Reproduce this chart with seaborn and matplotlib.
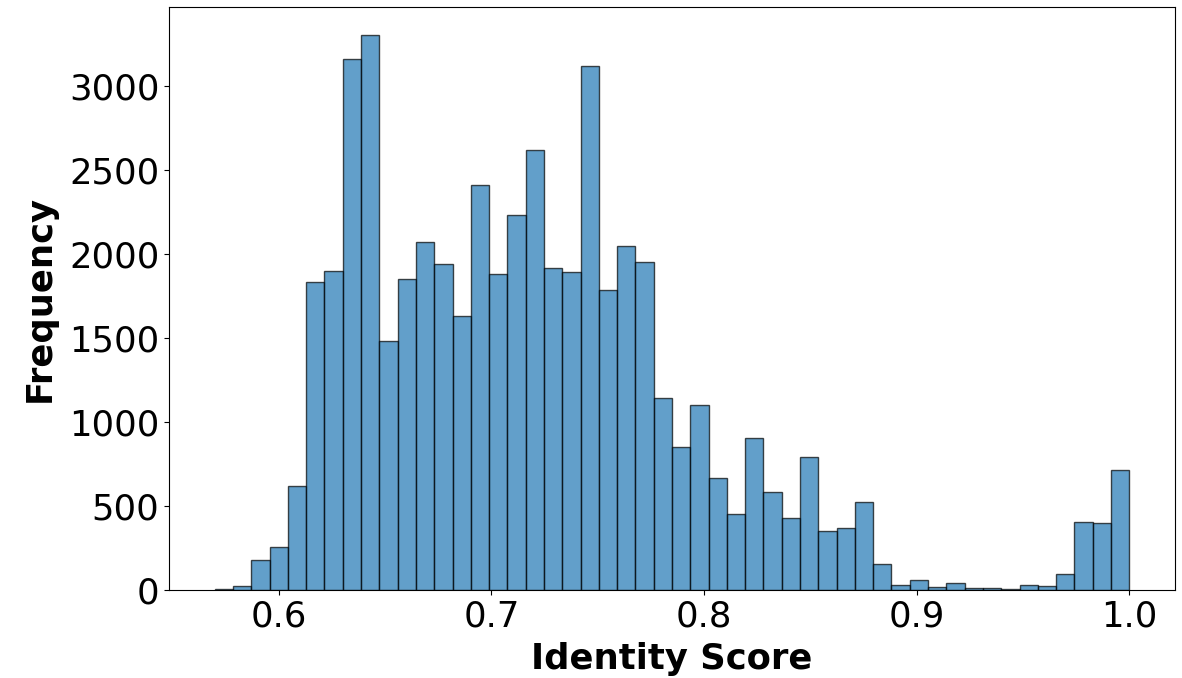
import numpy as np
import pandas as pd
import matplotlib
matplotlib.use("Agg")
import matplotlib.pyplot as plt
import seaborn as sns

# Histogram data
bin_start = 0.5699
bin_end = 1.0
n_bins = 50
counts = [8, 22, 181, 255, 617, 1835, 1902, 3165, 3308, 1482,
          1850, 2076, 1940, 1631, 2414, 1880, 2233, 2624, 1918, 1894,
          3121, 1789, 2051, 1954, 1141, 850, 1105, 669, 450, 908,
          586, 430, 795, 353, 368, 525, 157, 30, 60, 16,
          44, 14, 14, 6, 30, 24, 97, 406, 398, 713]
x_label = "Identity Score"
y_label = "Frequency"
x_ticks = [0.6, 0.7, 0.8, 0.9, 1.0]

edges = np.linspace(bin_start, bin_end, n_bins + 1)
centers = (edges[:-1] + edges[1:]) / 2
df = pd.DataFrame({"score": centers, "count": counts})

plt.rcParams["font.family"] = ["DejaVu Sans"]
fig = plt.figure(figsize=(11.82, 6.78), dpi=100)
ax = fig.add_axes([169 / 1182, 88 / 678, (1175 - 169) / 1182, (590 - 7) / 678])

sns.histplot(data=df, x="score", weights="count", bins=edges.tolist(), ax=ax,
             color="#1f77b4", alpha=0.7, edgecolor=(0, 0, 0, 0.7), linewidth=1)

ax.set_xticks(x_ticks)
ax.set_xlabel(x_label, fontsize=25.5, fontweight="bold", labelpad=6)
ax.set_ylabel(y_label, fontsize=25.5, fontweight="bold", labelpad=9)
ax.tick_params(axis="both", labelsize=25.5)

fig.savefig("out.png", dpi=100)
